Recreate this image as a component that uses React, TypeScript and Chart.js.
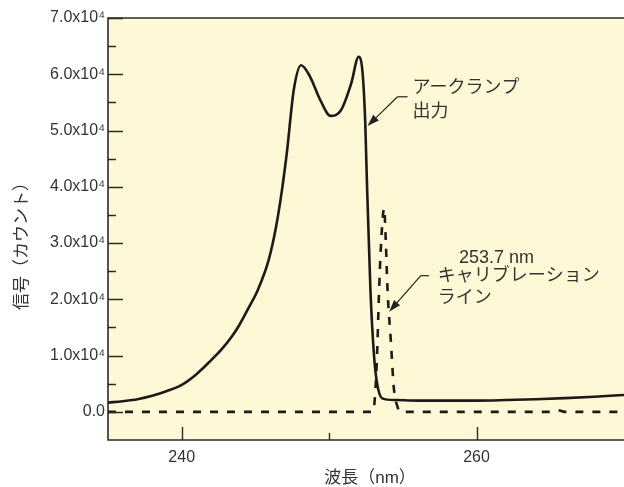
import { useEffect, useRef } from 'react';
import { Chart, registerables } from 'chart.js';

Chart.register(...registerables);

// ---- data ----
const lampWavelengths = [235, 236, 237, 238, 239, 240, 241, 242, 242.7, 243.4, 243.9, 244.5, 245.2, 245.9, 246.4, 246.8, 247.15, 247.6, 248.1, 248.7, 249.4, 250.1, 250.8, 251.5, 252.0, 252.27, 252.45, 252.55, 252.8, 253.05, 253.25, 253.6, 254.5, 256, 258, 260, 262, 264, 266, 268, 270];
const lampCounts = [1650, 1900, 2250, 2850, 3700, 4800, 6700, 9200, 11100, 13400, 15400, 18300, 21900, 27000, 32900, 39400, 46500, 57200, 61600, 59600, 55400, 52600, 53600, 58400, 63100, 60200, 51300, 42000, 21700, 9800, 5100, 2400, 2100, 2000, 2000, 2000, 2100, 2250, 2450, 2700, 3000];

const calWavelengths = [235, 252.95, 253.05, 253.23, 253.39, 253.5, 253.73, 253.84, 253.96, 254.18, 254.4, 254.64, 254.8, 265, 265.5, 266, 270];
const calCounts = [0, 0, 900, 8700, 21700, 28800, 36200, 30500, 21700, 12800, 3900, 900, 0, 0, 300, 0, 0];

const xTickValues = [240, 250, 260];
const xLabeledTicks = [240, 260];
const yTickValues = [0, 10000, 20000, 30000, 40000, 50000, 60000, 70000];
const yMinorTickValues = [5000, 15000, 25000, 35000, 45000, 55000, 65000];

const xTitle = '波長（nm）';
const yTitle = '信号（カウント）';

const LATIN = "'Liberation Sans', Arial, 'Noto Sans CJK JP', sans-serif";
const TEXT_COLOR = '#333333';
const BG = '#FEF8D6';

function drawArrow(ctx: CanvasRenderingContext2D, x0: number, y0: number, x1: number, y1: number) {
  const ang = Math.atan2(y1 - y0, x1 - x0);
  const len = 12;
  const half = 4;
  const bx = x1 - len * Math.cos(ang);
  const by = y1 - len * Math.sin(ang);
  ctx.beginPath();
  ctx.moveTo(x0, y0);
  ctx.lineTo(bx, by);
  ctx.stroke();
  ctx.beginPath();
  ctx.moveTo(x1, y1);
  ctx.lineTo(bx + half * Math.sin(ang), by - half * Math.cos(ang));
  ctx.lineTo(bx - half * Math.sin(ang), by + half * Math.cos(ang));
  ctx.closePath();
  ctx.fill();
}

const decorPlugin = {
  id: 'decor',
  beforeDraw(chart: any) {
    const { ctx, chartArea } = chart;
    ctx.save();
    ctx.fillStyle = BG;
    ctx.fillRect(chartArea.left, chartArea.top, chart.width - chartArea.left, chartArea.bottom - chartArea.top);
    ctx.restore();
  },
  afterDraw(chart: any) {
    const { ctx, chartArea } = chart;
    const xs = chart.scales.x;
    const ys = chart.scales.y;
    const { left, top, bottom } = chartArea;
    const right = chart.width;
    ctx.save();
    // frame
    ctx.strokeStyle = '#2b2b2b';
    ctx.lineWidth = 1.6;
    ctx.beginPath();
    ctx.moveTo(right, top);
    ctx.lineTo(left, top);
    ctx.lineTo(left, bottom);
    ctx.lineTo(right, bottom);
    ctx.stroke();
    // inward ticks
    ctx.lineWidth = 1.4;
    ctx.beginPath();
    yTickValues.forEach((v) => {
      const y = Math.round(ys.getPixelForValue(v)) + 0.5;
      ctx.moveTo(left, y);
      ctx.lineTo(left + 15, y);
    });
    yMinorTickValues.forEach((v) => {
      const y = Math.round(ys.getPixelForValue(v)) + 0.5;
      ctx.moveTo(left, y);
      ctx.lineTo(left + 8, y);
    });
    xTickValues.forEach((v) => {
      const x = Math.round(xs.getPixelForValue(v)) + 0.5;
      ctx.moveTo(x, bottom);
      ctx.lineTo(x, bottom - (xLabeledTicks.includes(v) ? 13 : 7));
    });
    ctx.stroke();

    // axis titles
    ctx.fillStyle = TEXT_COLOR;
    ctx.font = `17px ${LATIN}`;
    ctx.textAlign = 'center';
    ctx.textBaseline = 'middle';
    ctx.fillText(xTitle, (left + right) / 2 + 4, 478);
    ctx.save();
    ctx.translate(22, 242);
    ctx.rotate(-Math.PI / 2);
    ctx.fillText(yTitle, 0, 0);
    ctx.restore();

    // annotations
    const px = (v: number) => xs.getPixelForValue(v);
    const py = (v: number) => ys.getPixelForValue(v);
    ctx.strokeStyle = '#222222';
    ctx.fillStyle = '#222222';
    ctx.lineWidth = 1.2;
    // arc lamp
    ctx.beginPath();
    ctx.moveTo(px(255.32), py(56000));
    ctx.lineTo(px(254.64), py(56000));
    ctx.stroke();
    drawArrow(ctx, px(254.64), py(56000), px(252.6), py(50800));
    // calibration
    ctx.beginPath();
    ctx.moveTo(px(256.77), py(24200));
    ctx.lineTo(px(256.22), py(24200));
    ctx.stroke();
    drawArrow(ctx, px(256.22), py(24200), px(254.07), py(17800));

    ctx.fillStyle = TEXT_COLOR;
    ctx.textAlign = 'left';
    ctx.textBaseline = 'middle';
    ctx.font = `18px ${LATIN}`;
    ctx.fillText('アークランプ', px(255.66), py(57500));
    ctx.fillText('出力', px(255.66), py(53300));
    ctx.fillText('253.7 nm', px(258.8), py(27400));
    ctx.fillText('キャリブレーション', px(257.36), py(24200));
    ctx.fillText('ライン', px(257.36), py(20200));
    ctx.restore();
  },
};

export default function App() {
  const ref = useRef<HTMLCanvasElement | null>(null);
  useEffect(() => {
    if (!ref.current) return;
    const chart = new Chart(ref.current, {
      type: 'line',
      data: {
        datasets: [
          {
            label: 'アークランプ出力',
            data: lampWavelengths.map((x, i) => ({ x, y: lampCounts[i] })),
            borderColor: '#1e1a1a',
            borderWidth: 2.6,
            pointRadius: 0,
            fill: false,
            cubicInterpolationMode: 'monotone',
          },
          {
            label: 'キャリブレーションライン',
            data: calWavelengths.map((x, i) => ({ x, y: calCounts[i] })),
            borderColor: '#1e1a1a',
            borderWidth: 2.6,
            borderDash: [8, 9],
            pointRadius: 0,
            fill: false,
            cubicInterpolationMode: 'monotone',
          },
        ],
      },
      options: {
        animation: false,
        responsive: false,
        layout: { padding: { top: 18, right: 0, left: 0, bottom: 0 } },
        plugins: { legend: { display: false }, tooltip: { enabled: false } },
        scales: {
          x: {
            type: 'linear',
            min: 235,
            max: 270,
            grid: { display: false, drawTicks: false },
            border: { display: false },
            afterBuildTicks: (s: any) => {
              s.ticks = xTickValues.map((v) => ({ value: v }));
            },
            afterFit: (s: any) => {
              s.height = 47;
            },
            ticks: {
              padding: 8,
              color: TEXT_COLOR,
              font: { family: LATIN, size: 16 },
              maxRotation: 0,
              callback: (v: any) => (xLabeledTicks.includes(Number(v)) ? String(v) : ''),
            },
          },
          y: {
            type: 'linear',
            min: -5000,
            max: 70000,
            grid: { display: false, drawTicks: false },
            border: { display: false },
            afterBuildTicks: (s: any) => {
              s.ticks = yTickValues.map((v) => ({ value: v }));
            },
            afterFit: (s: any) => {
              s.width = 108;
            },
            ticks: {
              padding: 3,
              color: TEXT_COLOR,
              font: { family: LATIN, size: 16 },
              callback: (v: any) => {
                const n = Number(v);
                if (n === 0) return '0.0';
                return (n / 10000).toFixed(1) + 'x10⁴';
              },
            },
          },
        },
      },
      plugins: [decorPlugin],
    } as any);
    return () => chart.destroy();
  }, []);
  return (
    <div style={{ position: 'fixed', left: 0, top: 0, width: 624, height: 487, background: '#ffffff' }}>
      <canvas ref={ref} width={624} height={487} style={{ display: 'block' }} />
    </div>
  );
}
